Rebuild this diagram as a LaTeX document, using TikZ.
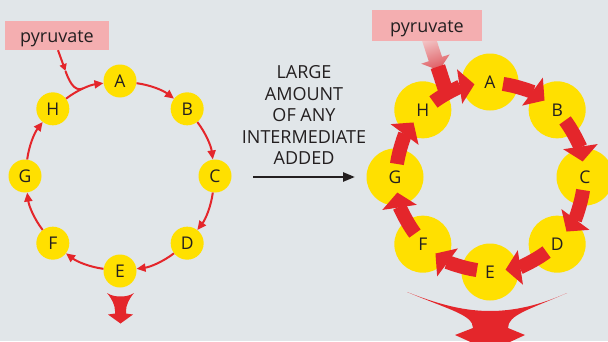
\documentclass[tikz,border=0pt]{standalone}
\usepackage{fontspec}
\setmainfont{Open Sans}
\usetikzlibrary{arrows.meta,calc}
\definecolor{bgc}{RGB}{225,230,233}
\definecolor{yel}{RGB}{255,224,0}
\definecolor{redc}{RGB}{228,38,43}
\definecolor{pinkc}{RGB}{244,174,176}
\definecolor{txt}{RGB}{35,31,32}
\definecolor{gradtop}{RGB}{243,196,198}
\definecolor{gradbot}{RGB}{222,90,95}
\begin{document}
\begin{tikzpicture}[x=1pt,y=1pt,
  lnode/.style={circle,fill=yel,minimum size=33pt,inner sep=0pt,text=txt,font=\fontsize{17.5}{17.5}\selectfont},
  rnode/.style={circle,fill=yel,minimum size=57pt,inner sep=0pt,text=txt,font=\fontsize{17.5}{17.5}\selectfont},
  rin/.style={circle,minimum size=26pt,inner sep=0pt},
  thinarr/.style={draw=redc,line width=2pt,-{Triangle[width=8pt,length=9pt]}},
  thinline/.style={draw=redc,line width=2pt},
  thickarr/.style={draw=redc,line width=14pt,shorten >=2.5pt,-{Triangle[width=34pt,length=15pt]}},
  pyrbox/.style={fill=pinkc,inner sep=0pt,text=txt,font=\fontsize{18}{18}\selectfont,text height=14.4pt,text depth=0pt},
  midtext/.style={align=center,text=txt,inner sep=0pt,font=\fontsize{18}{21.5}\selectfont}
]
\useasboundingbox[fill=bgc] (0,0) rectangle (608,341);

% ---------- left cycle ----------
\coordinate (cL) at (120,165);
\foreach \n/\a in {A/90,B/45,C/0,D/-45,E/-90,F/-135,G/180,H/135}
  \node[lnode] (l\n) at ($(cL)+(\a:95)$) {\n};
\foreach \p/\q in {A/B,B/C,C/D,D/E,E/F,F/G,G/H,H/A}
  \draw[thinarr] (l\p) to[bend left=15,looseness=0.87] (l\q);

\node[pyrbox,minimum width=104pt,minimum height=29pt] (lp) at (57,305.5) {pyruvate};
\coordinate (lk) at (65.5,270);
\coordinate (lm) at ($(cL)+(113:95)$);
\draw[thinline,-{Triangle[width=7pt,length=7pt]}] ([xshift=1pt]lp.south) -- (lk);
\draw[thinline] (lk) .. controls (68.1,262.4) and (73.7,248.5) .. (lm);

% bottom left arrow
\fill[redc] (107,48) .. controls (112,45) and (116,44.5) .. (120.5,44.5)
  .. controls (125,44.5) and (129,45) .. (134,48)
  .. controls (129,42) and (126,36) .. (126,30)
  -- (126,27.5) -- (133,26.5) -- (120.5,17.5) -- (108,26.5) -- (115,27.5) -- (115,30)
  .. controls (115,36) and (112,42) .. (107,48) -- cycle;

% ---------- middle ----------
\node[midtext] (mt) at (304,225.6) {LARGE\\AMOUNT\\OF ANY\\INTERMEDIATE\\ADDED};
\coordinate (m1) at (253,164);
\coordinate (m2) at (355,164);
\draw[txt,line width=2.5pt,-{Triangle[width=9pt,length=12pt]}] (m1) -- (m2);

% ---------- right cycle ----------
\coordinate (cR) at (490,164);
\foreach \n/\a in {A/90,B/45,C/0,D/-45,E/-90,F/-135,G/180,H/135}{
  \node[rnode] (r\n) at ($(cR)+(\a:95)$) {\n};
  \node[rin] (r\n i) at (r\n) {};
}

% pyruvate gradient arrow
\shade[shading=axis,top color=gradtop,bottom color=gradbot,shading angle=18]
  (435.53,304.07) -- (442.04,284.12) -- (449.64,286.6) -- (439.11,270.55)
  -- (421.14,277.3) -- (428.74,279.78) -- (422.23,299.73) -- cycle;
\fill[redc] (445.0,276.68) -- (452.75,252.93) -- (438.49,248.27) -- (430.74,272.02) -- cycle;

\foreach \p/\q in {A/B,B/C,C/D,D/E,E/F,F/G,G/H,H/A}
  \draw[thickarr] (r\p i) to[bend left=14,looseness=0.87] (r\q i);

\node[pyrbox,minimum width=110pt,minimum height=31pt] (rp) at (427,315.5) {pyruvate};

% bottom right arrow
\fill[redc] (407,49) .. controls (440,36) and (465,30) .. (490,30)
  .. controls (515,30) and (540,36) .. (567,48)
  .. controls (528,31) and (508,26) .. (508,13)
  -- (525,6) -- (490.5,-10) -- (455,6) -- (473,13)
  .. controls (473,26) and (450,31) .. (407,49) -- cycle;
\end{tikzpicture}
\end{document}
